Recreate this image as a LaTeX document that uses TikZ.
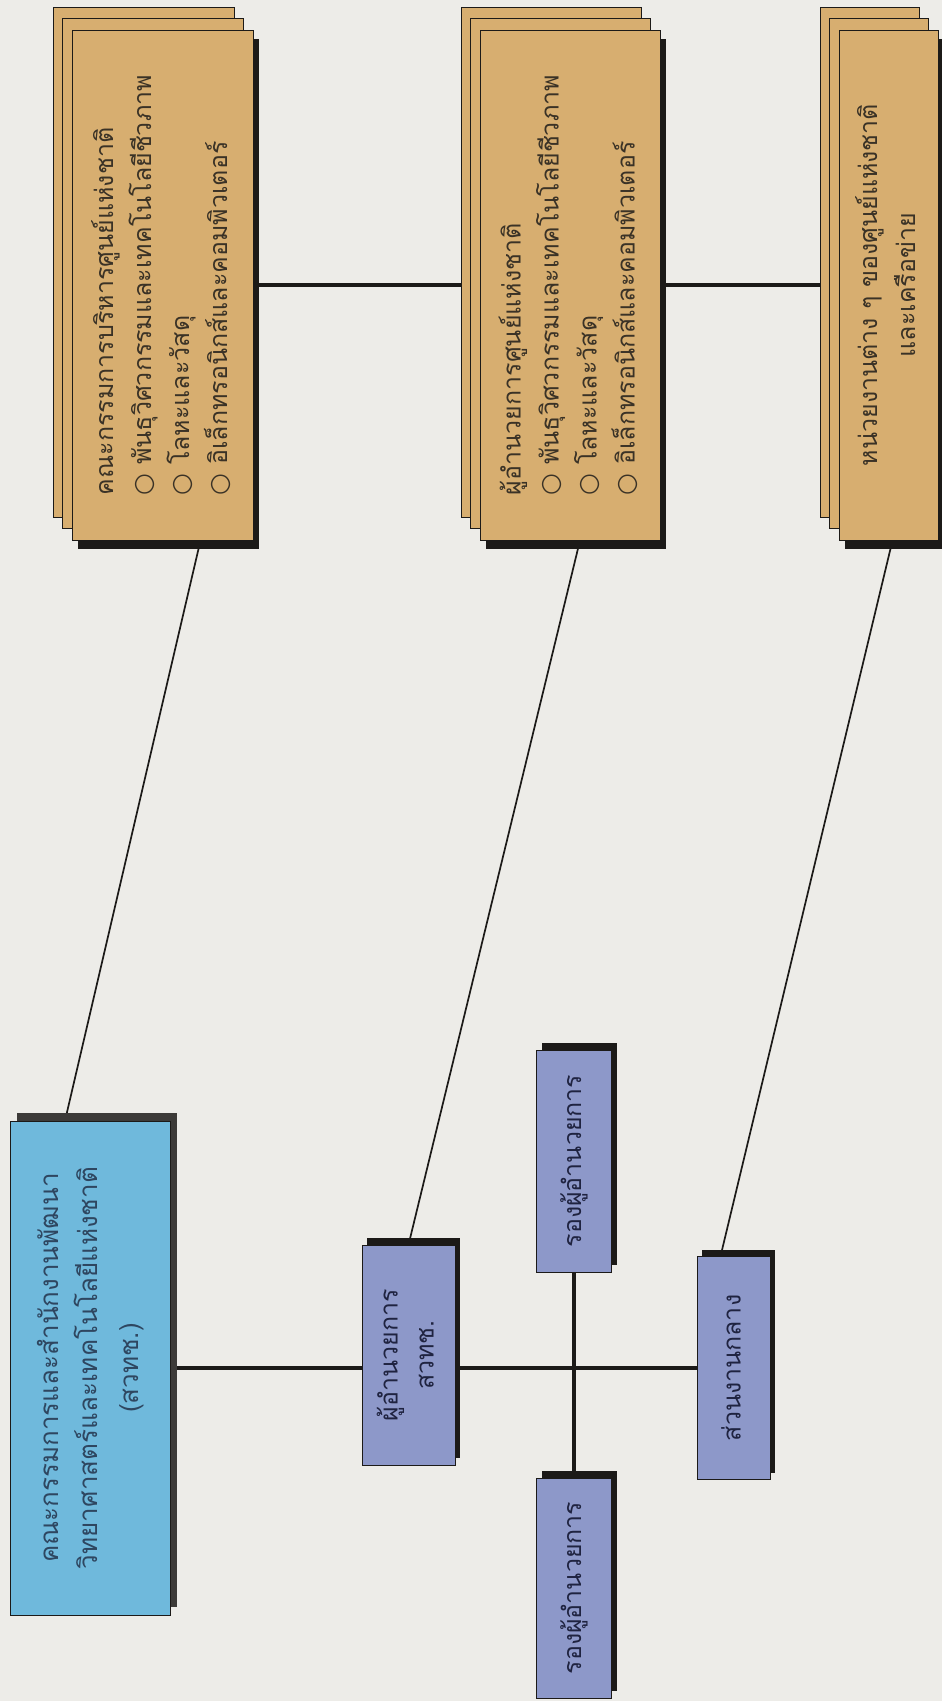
\documentclass[tikz,border=0pt]{standalone}
\usepackage{fontspec}
\usepackage{graphicx}
\newfontfamily\thaifont[Script=Thai]{Loma}
\newfontfamily\symfont{DejaVu Sans}
\usetikzlibrary{shadows, backgrounds}
\definecolor{paperGrey}{HTML}{EDECE8}
\definecolor{boardTan}{HTML}{D7AE70}
\definecolor{boardBlue}{HTML}{6FB9DC}
\definecolor{staffBlue}{HTML}{8D98C9}
\definecolor{inkDark}{HTML}{1C1A18}
\definecolor{shadeGrey}{HTML}{3C3A38}
\definecolor{tanInk}{HTML}{3A3226}
\definecolor{blueInk}{HTML}{2E4660}
\definecolor{staffInk}{HTML}{1F2340}
\newcommand{\vtext}[2]{\rotatebox{90}{\begin{tabular}{@{}#1@{}}#2\end{tabular}}}
\newcommand{\bul}{{\symfont ○}\ }

\begin{document}
\begin{tikzpicture}[x=1pt, y=-1pt,
  sheet/.style={draw=inkDark, thick, fill=boardTan, inner sep=0pt,
    text=tanInk, font=\thaifont\fontsize{25}{38}\selectfont,
    copy shadow={shadow xshift=-19pt, shadow yshift=23pt, draw=inkDark, thick, fill=boardTan},
    copy shadow={shadow xshift=-9.5pt, shadow yshift=11.5pt, draw=inkDark, thick, fill=boardTan},
    drop shadow={shadow xshift=6pt, shadow yshift=-9pt, fill=inkDark, opacity=1}},
  board/.style={draw=inkDark, fill=boardBlue, inner sep=0pt,
    text=blueInk, font=\thaifont\fontsize{26}{40}\selectfont,
    drop shadow={shadow xshift=7pt, shadow yshift=8pt, fill=shadeGrey, opacity=1}},
  staff/.style={draw=inkDark, fill=staffBlue, inner sep=0pt,
    text=staffInk, font=\thaifont\fontsize{25}{36}\selectfont,
    drop shadow={shadow xshift=5pt, shadow yshift=7pt, fill=inkDark, opacity=1}},
  link/.style={line width=4.5pt, inkDark},
  slant/.style={line width=1.7pt, inkDark}
]
\useasboundingbox (0,0) rectangle (942,1701);

% national centres (top row)
\node[sheet, minimum width=181pt, minimum height=510pt] (board) at (162.5,285)
  {\vtext{l}{คณะกรรมการบริหารศูนย์แห่งชาติ\\
   \bul พันธุวิศวกรรมและเทคโนโลยีชีวภาพ\\
   \bul โลหะและวัสดุ\\
   \bul อิเล็กทรอนิกส์และคอมพิวเตอร์}};
\node[sheet, minimum width=180pt, minimum height=510pt] (centredir) at (570,285)
  {\vtext{l}{ผู้อำนวยการศูนย์แห่งชาติ\\
   \bul พันธุวิศวกรรมและเทคโนโลยีชีวภาพ\\
   \bul โลหะและวัสดุ\\
   \bul อิเล็กทรอนิกส์และคอมพิวเตอร์}};
\node[sheet, minimum width=99pt, minimum height=510pt] (units) at (888.5,285)
  {\vtext{c}{หน่วยงานต่าง ๆ ของศูนย์แห่งชาติ\\และเครือข่าย}};

% nstda (bottom row)
\node[board, minimum width=160pt, minimum height=494pt] (nstda) at (90,1368)
  {\vtext{c}{คณะกรรมการและสำนักงานพัฒนา\\วิทยาศาสตร์และเทคโนโลยีแห่งชาติ\\(สวทช.)}};
\node[staff, minimum width=93pt, minimum height=220pt] (director) at (408.5,1355)
  {\vtext{c}{ผู้อำนวยการ\\สวทช.}};
\node[staff, minimum width=75pt, minimum height=222pt] (deputy1) at (574,1161)
  {\vtext{c}{รองผู้อำนวยการ}};
\node[staff, minimum width=75pt, minimum height=220pt] (deputy2) at (574,1588)
  {\vtext{c}{รองผู้อำนวยการ}};
\node[staff, minimum width=73pt, minimum height=223pt] (central) at (733.5,1368)
  {\vtext{c}{ส่วนงานกลาง}};

\begin{scope}[on background layer]
  \fill[paperGrey] (0,0) rectangle (942,1701);
  \draw[link] (board.east) -- (centredir.west);
  \draw[link] (centredir.east) -- (units.west);
  \draw[link] (nstda.east) -- (nstda.east -| director.west);
  \draw[link] (nstda.east -| director.east) -- (central.west);
  \draw[link] (deputy1.south) -- (deputy2.north);
  \draw[slant] ([xshift=38pt]board.south) -- ([xshift=-25pt]nstda.north);
  \draw[slant] ([xshift=10pt]centredir.south) -- (director.north);
  \draw[slant] ([xshift=4pt]units.south) -- ([xshift=-13pt]central.north);
\end{scope}
\end{tikzpicture}
\end{document}
